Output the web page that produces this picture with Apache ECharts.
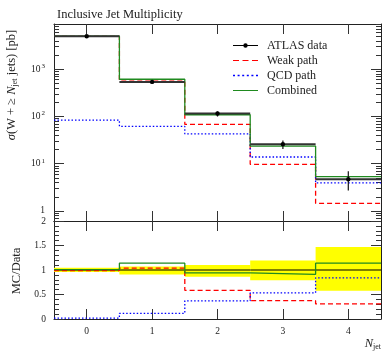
<!DOCTYPE html>
<html><head><meta charset="utf-8">
<script src="https://cdn.jsdelivr.net/npm/echarts@6/dist/echarts.min.js"></script>
<style>html,body{margin:0;padding:0;background:#fff}#c{width:383px;height:351px}</style>
</head><body><div id="c"></div>
<script>
// ---- data ----
const nJet = [0, 1, 2, 3, 4];
const xTickLabels = ['0', '1', '2', '3', '4'];
const atlasData = [5000, 540, 116, 26, 4.7];
const atlasErrUp = [230, 38, 12, 5, 2.2];
const atlasErrDown = [210, 49, 16, 5.5, 2.0];
const weakPath = [4950, 560, 68, 9.7, 1.45];
const qcdPath = [84, 62, 43, 13.9, 3.95];
const combined = [5034, 615, 109, 23.7, 5.35];
const logMajorTicks = [1, 10, 100, 1000];
const logMinorTicks = [0.7, 0.8, 0.9, 2, 3, 4, 5, 6, 7, 8, 9, 20, 30, 40, 50, 60, 70, 80, 90,
  200, 300, 400, 500, 600, 700, 800, 900, 2000, 3000, 4000, 5000, 6000, 7000, 8000, 9000];

// ---- helpers ----
const SERIF = '"Liberation Serif", "DejaVu Serif", serif';
const edges = nJet.map(c => c - 0.5).concat([nJet[nJet.length - 1] + 0.5]);
const stepData = vals => edges.map((e, i) => [e, vals[Math.min(i, vals.length - 1)]]);
const ratio = vals => vals.map((v, i) => v / atlasData[i]);

const chart = echarts.init(document.getElementById('c'), null, {renderer: 'canvas'});

function xAx(gridIndex, position, showLabels) {
  return {
    type: 'value', gridIndex, position, min: -0.5, max: 4.5,
    axisLine: {show: true, onZero: false, lineStyle: {color: '#222', width: 1}},
    axisTick: {show: true, inside: true, length: 10, customValues: nJet, lineStyle: {color: '#333', width: 1}},
    axisLabel: {show: showLabels, customValues: nJet, margin: 7,
      formatter: v => xTickLabels[nJet.indexOf(Math.round(v))],
      fontFamily: SERIF, fontSize: 9.5, color: '#222'},
    splitLine: {show: false}
  };
}
const LOGMIN = 0.614, LOGMAX = 9080;
function yLog(position, minor, showLabels) {
  return {
    type: 'log', logBase: 10, gridIndex: 0, position, min: LOGMIN, max: LOGMAX,
    axisLine: {show: !minor, onZero: false, lineStyle: {color: '#222', width: 1}},
    axisTick: {show: true, inside: true, length: minor ? 5 : 10,
      customValues: minor ? logMinorTicks : logMajorTicks, lineStyle: {color: '#333', width: 1}},
    axisLabel: {show: showLabels, customValues: logMajorTicks, margin: 9,
      formatter: v => {
        const e = Math.round(Math.log10(v));
        return e === 0 ? '{b|1}' : '{b|10}{s|' + e + '}';
      },
      rich: {b: {fontFamily: SERIF, fontSize: 9.5, color: '#222'},
             s: {fontFamily: SERIF, fontSize: 7, color: '#222', verticalAlign: 'bottom', padding: [0, 0, 6, 1]}}},
    splitLine: {show: false}, minorTick: {show: false}
  };
}
function yRatio(position, showLabels) {
  return {
    type: 'value', gridIndex: 1, position, min: 0, max: 2, interval: 0.5,
    axisLine: {show: true, onZero: false, lineStyle: {color: '#222', width: 1}},
    axisTick: {show: true, inside: true, length: 10, lineStyle: {color: '#333', width: 1}},
    minorTick: {show: true, splitNumber: 5, length: 5, lineStyle: {color: '#333', width: 1}},
    axisLabel: {show: showLabels, margin: 8, fontFamily: SERIF, fontSize: 9.5, color: '#222'},
    splitLine: {show: false}, minorSplitLine: {show: false}
  };
}

function histLine(name, vals, color, type, xi, yi, z) {
  return {
    name, type: 'line', step: 'end', data: stepData(vals), xAxisIndex: xi, yAxisIndex: yi,
    symbol: 'none', showSymbol: false, animation: false, z,
    lineStyle: {color, width: 1.3, type}, itemStyle: {color}
  };
}

const dataPoints = nJet.map((c, i) => [c, atlasData[i], atlasErrUp[i], atlasErrDown[i]]);
const bandData = nJet.map((c, i) => [c, 1 + atlasErrUp[i] / atlasData[i], 1 - atlasErrDown[i] / atlasData[i]]);

// legend icon shapes (25 x 5 box; tiny corner squares keep the box size)
const BOX = 'M0,0h0.01v0.01h-0.01z M24.99,4.99h0.01v0.01h-0.01z ';
const iconData = 'path://' + BOX + 'M0,1.9h10.5v1.2h-10.5z M14.5,1.9h10.5v1.2h-10.5z ' +
  'M10.3,2.5a2.2,2.2 0 1,1 4.4,0a2.2,2.2 0 1,1 -4.4,0z';
const iconWeak = 'path://' + BOX + 'M0,1.9h6v1.2h-6z M9.5,1.9h6v1.2h-6z M19,1.9h6v1.2h-6z';
const iconQcd = 'path://' + BOX + 'M0,1.8h2v1.4h-2z M4.6,1.8h2v1.4h-2z M9.2,1.8h2v1.4h-2z ' +
  'M13.8,1.8h2v1.4h-2z M18.4,1.8h2v1.4h-2z M23,1.8h2v1.4h-2z';
const iconComb = 'path://' + BOX + 'M0,1.9h25v1.2h-25z';

const option = {
  animation: false,
  backgroundColor: '#fff',
  title: {text: 'Inclusive Jet Multiplicity', left: 52, top: 3,
    textStyle: {fontFamily: SERIF, fontSize: 12.5, fontWeight: 'normal', color: '#222'}},
  grid: [
    {left: 54, right: 2, top: 24, height: 197},
    {left: 54, right: 2, top: 221, height: 98}
  ],
  xAxis: [xAx(0, 'bottom', false), xAx(0, 'top', false), xAx(1, 'bottom', true), xAx(1, 'top', false)],
  yAxis: [yLog('left', false, true), yLog('left', true, false), yLog('right', false, false), yLog('right', true, false),
          yRatio('left', true), yRatio('right', false)],
  legend: {
    orient: 'vertical', left: 228, top: 33, itemWidth: 25, itemHeight: 5, itemGap: 0,
    textStyle: {fontFamily: SERIF, fontSize: 12, color: '#222', lineHeight: 15, padding: [0, 0, 0, 4]},
    data: [
      {name: 'ATLAS data', icon: iconData, itemStyle: {color: '#000', borderWidth: 0}},
      {name: 'Weak path', icon: iconWeak, itemStyle: {color: '#ff0000', borderWidth: 0}},
      {name: 'QCD path', icon: iconQcd, itemStyle: {color: '#0000ff', borderWidth: 0}},
      {name: 'Combined', icon: iconComb, itemStyle: {color: '#1f8a1f', borderWidth: 0}}
    ]
  },
  graphic: [
    {type: 'text', x: 12, y: 85, rotation: Math.PI / 2,
      style: {text: '{i|σ}(W + ≥ {i|N}{sub|jet} jets) [pb]', textAlign: 'center', textVerticalAlign: 'middle',
        fontFamily: SERIF, fontSize: 12.5, fill: '#222',
        rich: {i: {fontStyle: 'italic', fontFamily: SERIF, fontSize: 12.5, fill: '#222'},
               sub: {fontFamily: SERIF, fontSize: 8, fill: '#222', verticalAlign: 'top', padding: [6, 0, 0, 0]}}}},
    {type: 'text', x: 17, y: 271, rotation: Math.PI / 2,
      style: {text: 'MC/Data', textAlign: 'center', textVerticalAlign: 'middle',
        fontFamily: SERIF, fontSize: 12.5, fill: '#222'}},
    {type: 'text', x: 381, y: 344,
      style: {text: '{i|N}{sub|jet}', textAlign: 'right', textVerticalAlign: 'middle',
        fontFamily: SERIF, fontSize: 12, fill: '#222',
        rich: {i: {fontStyle: 'italic', fontFamily: SERIF, fontSize: 12.5, fill: '#222'},
               sub: {fontFamily: SERIF, fontSize: 8, fill: '#222', verticalAlign: 'top', padding: [6, 0, 0, 0]}}}}
  ],
  series: [
    histLine('Weak path', weakPath, '#ff0000', [5, 3], 0, 0, 3),
    histLine('QCD path', qcdPath, '#0000ff', [1.5, 2], 0, 0, 3),
    histLine('Combined', combined, '#1f8a1f', 'solid', 0, 0, 4),
    {
      name: 'ATLAS data', type: 'custom', xAxisIndex: 0, yAxisIndex: 0, z: 6,
      data: dataPoints, encode: {x: 0, y: 1}, itemStyle: {color: '#000'},
      renderItem: (params, api) => {
        const x = api.value(0), v = api.value(1), up = api.value(2), dn = api.value(3);
        const pl = api.coord([x - 0.5, v]), pr = api.coord([x + 0.5, v]);
        const pt = api.coord([x, v + up]), pb = api.coord([x, v - dn]);
        const p = api.coord([x, v]);
        return {type: 'group', children: [
          {type: 'line', shape: {x1: pl[0], y1: pl[1], x2: pr[0], y2: pr[1]}, style: {stroke: '#333', lineWidth: 2}},
          {type: 'line', shape: {x1: pt[0], y1: pt[1], x2: pb[0], y2: pb[1]}, style: {stroke: '#111', lineWidth: 1.2}},
          {type: 'circle', shape: {cx: p[0], cy: p[1], r: 2.2}, style: {fill: '#000'}}
        ]};
      }
    },
    {
      name: 'Data band', type: 'custom', xAxisIndex: 2, yAxisIndex: 4, z: 1,
      data: bandData, encode: {x: 0, y: [1, 2]},
      renderItem: (params, api) => {
        const x = api.value(0), hi = api.value(1), lo = api.value(2);
        const a = api.coord([x - 0.5, hi]), b = api.coord([x + 0.5, lo]);
        const l = api.coord([x - 0.5, 1]), r = api.coord([x + 0.5, 1]);
        return {type: 'group', children: [
          {type: 'rect', shape: {x: a[0], y: a[1], width: b[0] - a[0], height: b[1] - a[1]}, style: {fill: '#ffff00'}},
          {type: 'line', shape: {x1: l[0], y1: l[1], x2: r[0], y2: r[1]}, style: {stroke: '#000', lineWidth: 1}}
        ]};
      }
    },
    histLine('Weak ratio', ratio(weakPath), '#ff0000', [5, 3], 2, 4, 3),
    histLine('QCD ratio', ratio(qcdPath), '#0000ff', [1.5, 2], 2, 4, 3),
    histLine('Combined ratio', ratio(combined), '#1f8a1f', 'solid', 2, 4, 4)
  ]
};
chart.setOption(option);
</script>
</body></html>
